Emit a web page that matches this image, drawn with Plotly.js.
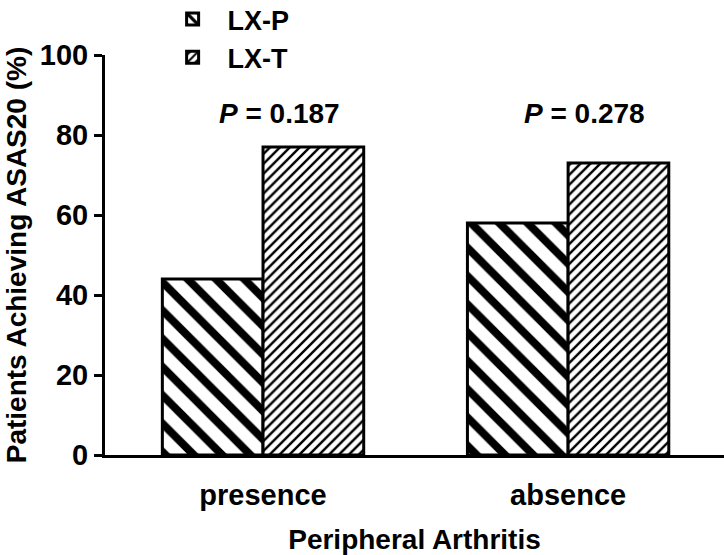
<!DOCTYPE html>
<html>
<head>
<meta charset="utf-8">
<script src="https://cdn.plot.ly/plotly-3.0.1.min.js"></script>
<style>
  html, body { margin: 0; padding: 0; background: #fff; }
  #chart { width: 724px; height: 555px; }
</style>
</head>
<body>
<div id="chart"></div>
<script>
    var categories = ['presence', 'absence'];
    var lxP = [44, 58];
    var lxT = [77, 73];
    var pLabels = ['<i>P</i> = 0.187', '<i>P</i> = 0.278'];
    var pLabelY = [85.5, 85.5];

    var font = 'Liberation Sans, Arial, Helvetica, sans-serif';

    var trace1 = {
        x: categories,
        y: lxP,
        name: 'LX-P',
        type: 'bar',
        marker: {
            color: '#ffffff',
            line: {color: '#000000', width: 3},
            pattern: {shape: '\\', size: 20, solidity: 0.4, fgcolor: '#000000', bgcolor: '#ffffff'},
        },
    };

    var trace2 = {
        x: categories,
        y: lxT,
        name: 'LX-T',
        type: 'bar',
        marker: {
            color: '#ffffff',
            line: {color: '#000000', width: 3},
            pattern: {shape: '/', size: 7, solidity: 0.35, fgcolor: '#000000', bgcolor: '#ffffff'},
        },
    };

    var annotations = categories.map(function (c, i) {
        return {
            x: c, y: pLabelY[i], xref: 'x', yref: 'y',
            text: pLabels[i], showarrow: false, xshift: 16,
            font: {family: font, size: 28, color: '#000', weight: 'bold'},
        };
    });

    var layout = {
        width: 724,
        height: 555,
        barmode: 'group',
        bargap: 0.34,
        bargroupgap: 0,
        paper_bgcolor: '#ffffff',
        plot_bgcolor: '#ffffff',
        margin: {l: 105, r: 0, t: 55, b: 100, autoexpand: false},
        font: {family: font, color: '#000', weight: 'bold'},
        showlegend: true,
        legend: {
            x: 0.085, y: 1.15, xanchor: 'left', yanchor: 'top',
            bgcolor: 'rgba(0,0,0,0)',
            font: {family: font, size: 27, color: '#000', weight: 'bold'},
            itemwidth: 60,
            tracegroupgap: 0,
        },
        xaxis: {
            range: [-0.518, 1.511],
            showline: true, linecolor: '#000', linewidth: 3,
            ticks: '', showgrid: false, zeroline: false,
            ticklabelstandoff: 12,
            tickfont: {family: font, size: 29, color: '#000', weight: 'bold'},
            title: {text: 'Peripheral Arthritis', standoff: 21,
                font: {family: font, size: 28, color: '#000', weight: 'bold'}},
        },
        yaxis: {
            range: [0, 100],
            dtick: 20,
            showline: true, linecolor: '#000', linewidth: 3,
            ticks: 'outside', ticklen: 8, tickwidth: 3, tickcolor: '#000',
            showgrid: false, zeroline: false,
            tickfont: {family: font, size: 29, color: '#000', weight: 'bold'},
            title: {text: 'Patients Achieving ASAS20 (%)', standoff: 6,
                font: {family: font, size: 28, color: '#000', weight: 'bold'}},
        },
        annotations: annotations,
    };

    Plotly.newPlot(document.getElementById('chart'), [trace1, trace2], layout, {displayModeBar: false});
</script>
</body>
</html>
